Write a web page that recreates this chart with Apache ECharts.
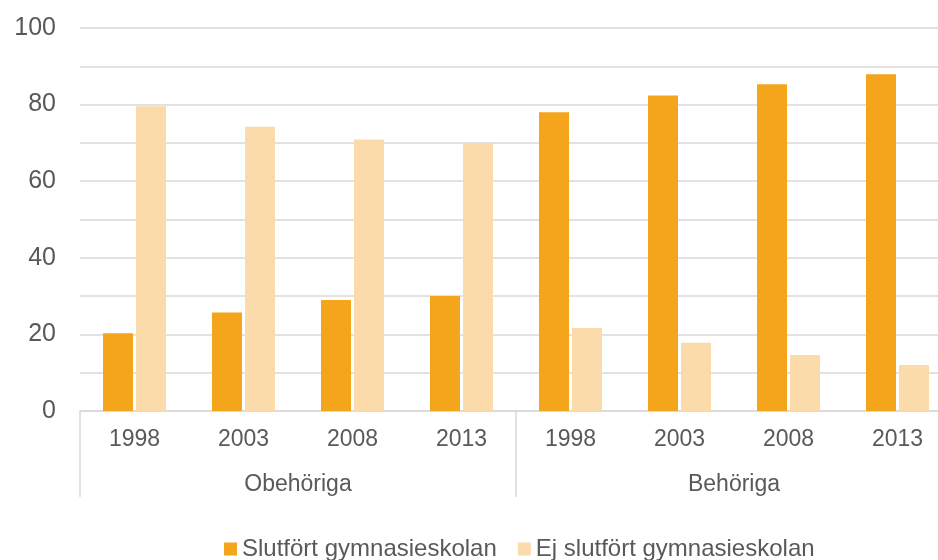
<!DOCTYPE html>
<html>
<head>
<meta charset="utf-8">
<script src="https://cdn.jsdelivr.net/npm/echarts@6/dist/echarts.min.js"></script>
<style>
  html, body { margin: 0; padding: 0; background: #fff; overflow: hidden; }
  /* the plot in the original runs past the right edge, so the canvas is a bit wider than the window */
  #chart { width: 952px; height: 560px; }
</style>
</head>
<body>
<div id="chart"></div>
<script>
// data
var years = ['1998', '2003', '2008', '2013', '1998', '2003', '2008', '2013'];
var groups = ['Obehöriga', 'Behöriga'];
var slutfort = [20.3, 25.7, 29.0, 30.0, 78.0, 82.4, 85.3, 87.9];
var ejSlutfort = [79.6, 74.2, 70.9, 70.0, 21.7, 17.8, 14.6, 12.0];
var yTicks = [0, 20, 40, 60, 80, 100];

var textColor = '#595959';
var font = 'Liberation Sans, Arial, sans-serif';

var chart = echarts.init(document.getElementById('chart'));
chart.setOption({
    animation: false,
    color: ['#F4A51B', '#FCDBAB'],
    grid: { left: 80, top: 28, right: 0, height: 383, containLabel: false },
    legend: {
        left: 224,
        top: 537,
        padding: 0,
        itemWidth: 13,
        itemHeight: 13,
        itemGap: 21,
        icon: 'rect',
        textStyle: { color: textColor, fontSize: 24, fontFamily: font },
        data: ['Slutfört gymnasieskolan', 'Ej slutfört gymnasieskolan']
    },
    xAxis: [
        {
            type: 'category',
            data: years,
            axisLine: { show: true, lineStyle: { color: '#d9d9d9', width: 1.5 } },
            axisTick: { show: false },
            axisLabel: { color: textColor, fontSize: 23, fontFamily: font, margin: 17 }
        },
        {
            type: 'category',
            data: groups,
            position: 'bottom',
            axisLine: { show: false },
            axisTick: { show: true, length: 86, lineStyle: { color: '#d9d9d9', width: 1.5 } },
            axisLabel: { color: textColor, fontSize: 23, fontFamily: font, margin: 62 }
        }
    ],
    yAxis: {
        type: 'value',
        min: 0,
        max: 100,
        interval: 10,
        axisLine: { show: false },
        axisTick: { show: false },
        splitLine: { lineStyle: { color: '#d9d9d9', width: 1.5 } },
        axisLabel: {
            color: textColor, fontSize: 25, fontFamily: font, margin: 24,
            formatter: function (v) { return yTicks.indexOf(v) >= 0 ? String(v) : ''; }
        }
    },
    series: [
        {
            name: 'Slutfört gymnasieskolan',
            type: 'bar',
            xAxisIndex: 0,
            barWidth: 30,
            barGap: '10%',
            data: slutfort
        },
        {
            name: 'Ej slutfört gymnasieskolan',
            type: 'bar',
            xAxisIndex: 0,
            barWidth: 30,
            barGap: '10%',
            data: ejSlutfort
        }
    ]
});
</script>
</body>
</html>
